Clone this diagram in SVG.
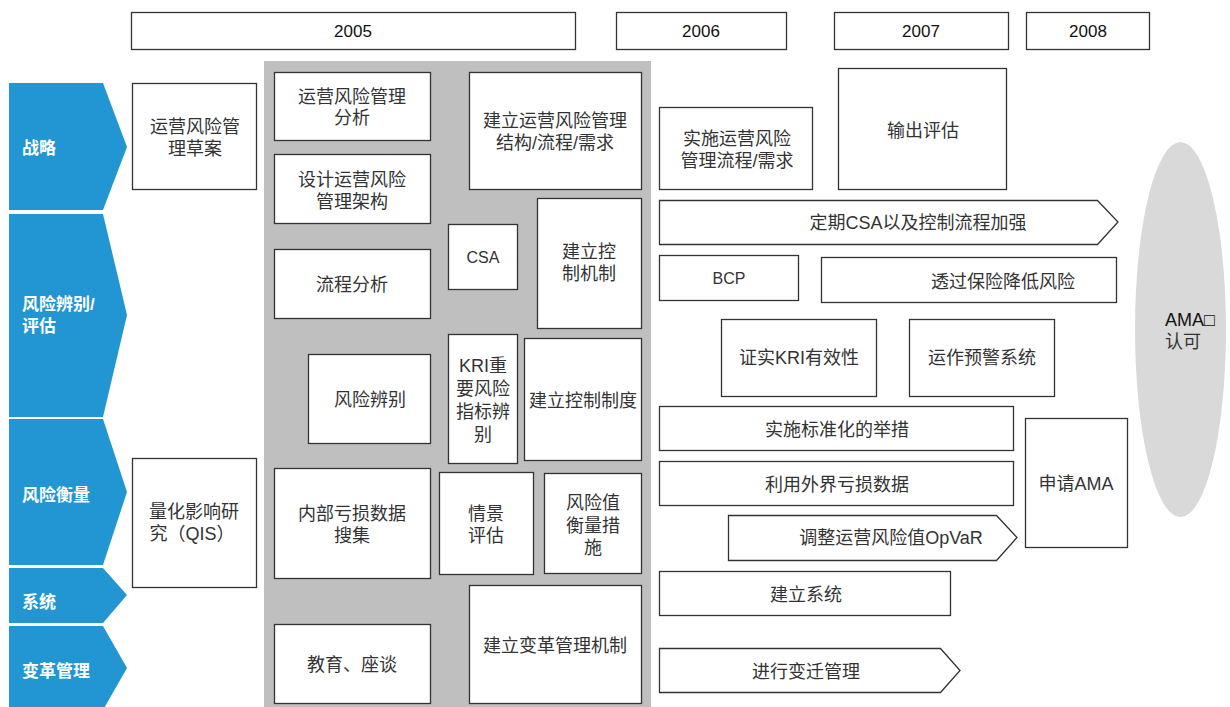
<svg xmlns="http://www.w3.org/2000/svg" width="1230" height="707" viewBox="0 0 1230 707">
<style>
.b{fill:#fff;stroke:#333;stroke-width:1.3}
.t{font-family:"Liberation Sans","Noto Sans CJK SC",sans-serif;font-size:18px;fill:#333;text-anchor:middle}
.y{font-family:"Liberation Sans","Noto Sans CJK SC",sans-serif;font-size:17px;fill:#111;text-anchor:middle}
.c{fill:#2196d3}
.w{font-family:"Liberation Sans","Noto Sans CJK SC",sans-serif;font-size:17px;font-weight:bold;fill:#fff}
</style>
<rect width="1230" height="707" fill="#fff"/>
<g id="years">
<rect class="b" x="131.5" y="12.5" width="444" height="37"/><text class="y" x="353" y="37">2005</text>
<rect class="b" x="616.5" y="12.5" width="170" height="37"/><text class="y" x="701" y="37">2006</text>
<rect class="b" x="834.5" y="12.5" width="174" height="37"/><text class="y" x="921" y="37">2007</text>
<rect class="b" x="1026.5" y="12.5" width="123" height="37"/><text class="y" x="1088" y="37">2008</text>
</g>
<g id="rows">
<g id="row-strategy"><polygon class="c" points="9,83 103,83 127,147 103,210 9,210"/><text class="w" x="22" y="154">战略</text></g>
<g id="row-identify"><polygon class="c" points="9,214 103,214 127,315 103,417 9,417"/><text class="w" x="22" y="310">风险辨别/</text><text class="w" x="22" y="332">评估</text></g>
<g id="row-measure"><polygon class="c" points="9,419 103,419 127,492 103,565 9,565"/><text class="w" x="22" y="501">风险衡量</text></g>
<g id="row-system"><polygon class="c" points="9,568 103,568 127,595 103,623 9,623"/><text class="w" x="22" y="608">系统</text></g>
<g id="row-change"><polygon class="c" points="9,626 103,626 127,668 103,710 9,710"/><text class="w" x="22" y="677">变革管理</text></g>
</g>
<rect id="panel-2005" x="264" y="61" width="387" height="646" fill="#bfbfbf"/>
<g id="nodes">
<g id="n1"><rect class="b" x="132.5" y="83.5" width="124" height="106"/><text class="t" x="195" y="133">运营风险管</text><text class="t" x="195" y="155">理草案</text></g>
<g id="n2"><rect class="b" x="132.5" y="458.5" width="124" height="129"/><text class="t" x="194" y="518">量化影响研</text><text class="t" x="192" y="540">究（QIS）</text></g>
<g id="n3"><rect class="b" x="274.5" y="72.5" width="156" height="68"/><text class="t" x="352" y="103">运营风险管理</text><text class="t" x="352" y="124">分析</text></g>
<g id="n4"><rect class="b" x="274.5" y="154.5" width="156" height="69"/><text class="t" x="352" y="186">设计运营风险</text><text class="t" x="352" y="208">管理架构</text></g>
<g id="n5"><rect class="b" x="274.5" y="249.5" width="156" height="69"/><text class="t" x="352" y="291">流程分析</text></g>
<g id="n6"><rect class="b" x="469.5" y="72.5" width="172" height="117"/><text class="t" x="555" y="127">建立运营风险管理</text><text class="t" x="555" y="149">结构/流程/需求</text></g>
<g id="n7"><rect class="b" x="448.5" y="224.5" width="69" height="65"/><text class="t" x="483" y="263" style="font-size:16px">CSA</text></g>
<g id="n8"><rect class="b" x="537.5" y="198.5" width="104" height="130"/><text class="t" x="589" y="258">建立控</text><text class="t" x="589" y="280">制机制</text></g>
<g id="n9"><rect class="b" x="308.5" y="354.5" width="122" height="89"/><text class="t" x="370" y="406">风险辨别</text></g>
<g id="n10"><rect class="b" x="448.5" y="334.5" width="69" height="129"/><text class="t" x="483" y="372">KRI重</text><text class="t" x="483" y="395">要风险</text><text class="t" x="483" y="418">指标辨</text><text class="t" x="483" y="441">别</text></g>
<g id="n11"><rect class="b" x="524.5" y="338.5" width="117" height="122"/><text class="t" x="583" y="407">建立控制制度</text></g>
<g id="n12"><rect class="b" x="274.5" y="468.5" width="156" height="110"/><text class="t" x="352" y="520">内部亏损数据</text><text class="t" x="352" y="542">搜集</text></g>
<g id="n13"><rect class="b" x="439.5" y="472.5" width="94" height="102"/><text class="t" x="486" y="520">情景</text><text class="t" x="486" y="542">评估</text></g>
<g id="n14"><rect class="b" x="544.5" y="473.5" width="97" height="100"/><text class="t" x="593" y="509">风险值</text><text class="t" x="593" y="532">衡量措</text><text class="t" x="593" y="554">施</text></g>
<g id="n15"><rect class="b" x="469.5" y="585.5" width="172" height="118"/><text class="t" x="555" y="652">建立变革管理机制</text></g>
<g id="n16"><rect class="b" x="274.5" y="624.5" width="156" height="79"/><text class="t" x="352" y="671">教育、座谈</text></g>
<g id="n17"><rect class="b" x="659.5" y="107.5" width="153" height="82"/><text class="t" x="737" y="145">实施运营风险</text><text class="t" x="737" y="167">管理流程/需求</text></g>
<g id="n18"><rect class="b" x="838.5" y="68.5" width="168" height="121"/><text class="t" x="923" y="137">输出评估</text></g>
<g id="n19"><polygon class="b" points="659.5,200.5 1097.5,200.5 1118,222 1097.5,244.5 659.5,244.5"/><text class="t" x="918" y="229">定期CSA以及控制流程加强</text></g>
<g id="n20"><rect class="b" x="659.5" y="255.5" width="139" height="45"/><text class="t" x="729" y="284" style="font-size:16px">BCP</text></g>
<g id="n21"><rect class="b" x="821.5" y="257.5" width="295" height="45"/><text class="t" x="1003" y="288">透过保险降低风险</text></g>
<g id="n22"><rect class="b" x="721.5" y="319.5" width="155" height="77"/><text class="t" x="799" y="364">证实KRI有效性</text></g>
<g id="n23"><rect class="b" x="909.5" y="319.5" width="145" height="77"/><text class="t" x="982" y="364">运作预警系统</text></g>
<g id="n24"><rect class="b" x="659.5" y="406.5" width="354" height="44"/><text class="t" x="837" y="436">实施标准化的举措</text></g>
<g id="n25"><rect class="b" x="659.5" y="461.5" width="354" height="44"/><text class="t" x="837" y="491">利用外界亏损数据</text></g>
<g id="n26"><polygon class="b" points="728.5,515.5 996.5,515.5 1017,537.5 996.5,560.5 728.5,560.5"/><text class="t" x="891" y="544">调整运营风险值OpVaR</text></g>
<g id="n27"><rect class="b" x="1025.5" y="418.5" width="102" height="129"/><text class="t" x="1076" y="490">申请AMA</text></g>
<g id="n28"><rect class="b" x="659.5" y="571.5" width="291" height="44"/><text class="t" x="806" y="601">建立系统</text></g>
<g id="n29"><polygon class="b" points="659.5,648.5 940.5,648.5 960,670.5 940.5,692.5 659.5,692.5"/><text class="t" x="806" y="678">进行变迁管理</text></g>
<g id="n30"><ellipse cx="1180.5" cy="329.5" rx="45.5" ry="187.5" fill="#d9d9d9"/><text class="t" x="1165" y="326" style="text-anchor:start;fill:#111">AMA□</text><text class="t" x="1165" y="348" style="text-anchor:start">认可</text></g>
</g>
<g id="connectors"></g>
</svg>
